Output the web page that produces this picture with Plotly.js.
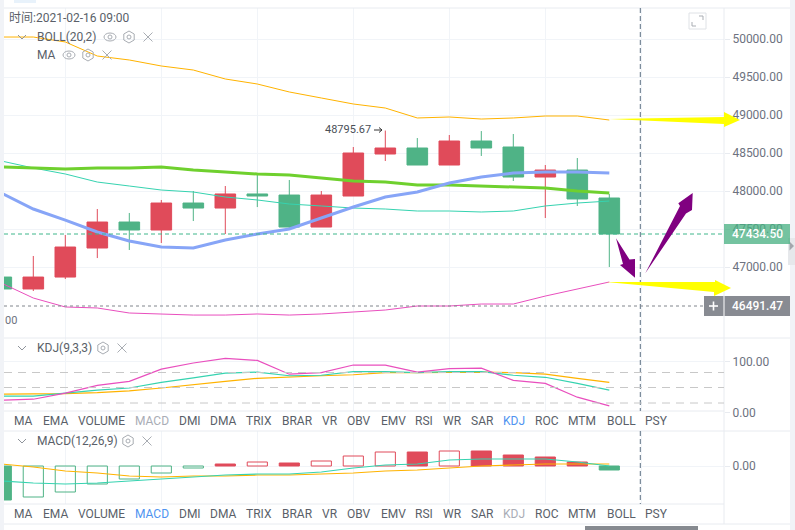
<!DOCTYPE html>
<html><head><meta charset="utf-8">
<script src="https://cdn.plot.ly/plotly-3.0.1.min.js"></script>
<style>html,body{margin:0;padding:0;background:#fff}#c{width:795px;height:530px}</style></head>
<body><div id="c"></div>
<script>
const idx = [0,1,2,3,4,5,6,7,8,9,10,11,12,13,14,15,16,17,18,19];
const open_ = [46868,46711,46868,47250,47592,47487,47842,47776,47961,47947,47526,47934,48487,48566,48342,48658,48579,48184,48276,47908];
const high  = [46880,47145,47421,47763,47711,47882,48000,48066,48211,48145,48000,48579,48795.67,48697,48737,48789,48750,48342,48434,47960];
const low   = [46700,46684,46842,47118,47224,47316,47605,47434,47789,47487,47526,47934,48395,48342,48342,48461,48132,47645,47803,47000];
const close_= [46711,46868,47263,47592,47487,47842,47776,47961,47934,47526,47947,48500,48566,48342,48658,48566,48184,48276,47895,47434.5];
const bollUp  = [50026,50026,49961,49776,49724,49645,49592,49474,49408,49303,49224,49145,49092,48961,48974,48947,48961,48987,48987,48934];
const bollMid = [48395,48303,48224,48118,48066,48013,47987,47921,47882,47829,47803,47776,47763,47737,47737,47724,47737,47803,47842,47868];
const bollLow = [46789,46592,46474,46461,46395,46382,46368,46368,46382,46368,46382,46408,46434,46487,46487,46513,46513,46618,46711,46803];
const maGreen = [48316,48303,48289,48303,48303,48316,48276,48250,48224,48211,48171,48132,48118,48079,48079,48066,48053,48039,48000,47974];
const maBlue  = [47974,47763,47618,47461,47342,47263,47250,47355,47434,47500,47645,47789,47921,47987,48105,48184,48237,48250,48250,48237];
const kdjJ = [25,27,39,54,62,86,98,107,103,76,79,94,94,80,87,88,64,58,31,14];
const kdjK = [33,33,39,45,49,60,69,78,80,73,74,81,81,79,81,81,74,70,58,45];
const kdjD = [37,37,38,40,43.5,49,56,62,68,71,73,75,79,79,80,80,79,76,68,60];
const macdHist = [-340,-310,-260,-180,-130,-70,-20,20,40,30,50,100,140,140,150,150,110,90,40,-40];
const macdHollow = [0,1,1,1,1,1,1,0,1,0,1,1,1,0,1,0,0,0,0,0];
const macdDif = [-150,-170,-180,-170,-150,-130,-110,-90,-80,-80,-60,-20,10,20,60,70,70,70,40,0];
const macdDea = [20,-10,-50,-70,-100,-110,-100,-100,-90,-90,-80,-70,-50,-40,-20,0,10,20,20,20];
const priceTicks = [47000,47500,48000,48500,49000,49500,50000];
const tabs = ["MA","EMA","VOLUME","MACD","DMI","DMA","TRIX","BRAR","VR","OBV","EMV","RSI","WR","SAR","KDJ","ROC","MTM","BOLL","PSY"];
const tabX = [23,55,101,152,190,223,259,297,330,359,393,424,452,482,514,547,582,621,656];

const UP='#e04b5a', DOWN='#4fb386', YEL='#ffb300', TEAL='#36d3b0', PINK='#e94fbe';
const GRID='#f1f4f8', EDGE='#e8ebf0', TXT='#5a5f69', TICK='#6d7280';
const FONT='Roboto, "Noto Sans CJK SC", sans-serif';
const W=795,H=530;
const px=x=>x/W, py=y=>1-y/H;
const pane=(t,b)=>[py(b),py(t)];
const poly=pts=>'M'+pts.map(p=>px(p[0])+','+py(p[1])).join('L')+'Z';
const open=pts=>'M'+pts.map(p=>px(p[0])+','+py(p[1])).join('L');
const P={xref:'paper',yref:'paper'};
const rect=(x0,y0,x1,y1,color,layer)=>({...P,type:'rect',x0:px(x0),x1:px(x1),y0:py(y0),y1:py(y1),fillcolor:color,line:{width:0},layer:layer||'above'});
const hl=(y,x0,x1,color,w,dash)=>({...P,type:'line',x0:px(x0),x1:px(x1),y0:py(y),y1:py(y),line:{color:color,width:w||1,dash:dash||'solid'},layer:'above'});
const vl=(x,y0,y1,color,w,dash)=>({...P,type:'line',x0:px(x),x1:px(x),y0:py(y0),y1:py(y1),line:{color:color,width:w||1,dash:dash||'solid'},layer:'above'});
const stroke=(d,c,w)=>({...P,type:'path',path:d,line:{color:c,width:w||1},layer:'above'});
const fill=(pts,c)=>({...P,type:'path',path:poly(pts),fillcolor:c,line:{width:0},layer:'above'});
const ICON='#a9adb3';
const chevron=(x,y)=>stroke(open([[x-4,y-2],[x,y+2],[x+4,y-2]]),'#8f949b',1);
const cross=(x,y)=>[stroke(open([[x-4.5,y-4.5],[x+4.5,y+4.5]]),ICON,1),stroke(open([[x+4.5,y-4.5],[x-4.5,y+4.5]]),ICON,1)];
const hex=(x,y)=>[stroke(poly([[x,y-6],[x+5.2,y-3],[x+5.2,y+3],[x,y+6],[x-5.2,y+3],[x-5.2,y-3]]),ICON,1),
  {...P,type:'circle',x0:px(x-2),x1:px(x+2),y0:py(y+2),y1:py(y-2),line:{color:ICON,width:1},layer:'above'}];
const eye=(x,y)=>[{...P,type:'circle',x0:px(x-6),x1:px(x+6),y0:py(y+4),y1:py(y-4),line:{color:ICON,width:1},layer:'above'},
  {...P,type:'circle',x0:px(x-2),x1:px(x+2),y0:py(y+2),y1:py(y-2),line:{color:ICON,width:1},layer:'above'}];

const line=(y,c,w,ax)=>({type:'scatter',mode:'lines',x:idx,y:y,yaxis:ax,xaxis:'x',line:{color:c,width:w,shape:'linear'},hoverinfo:'skip',showlegend:false});
const traces=[
 {type:'candlestick',x:idx,open:open_,high:high,low:low,close:close_,xaxis:'x',yaxis:'y',
  increasing:{line:{color:UP,width:1},fillcolor:UP},decreasing:{line:{color:DOWN,width:1},fillcolor:DOWN},whiskerwidth:0,showlegend:false,hoverinfo:'skip'},
 line(bollUp,YEL,1,'y'),line(bollMid,TEAL,1,'y'),line(bollLow,PINK,1,'y'),line(maGreen,'#6fd02e',3,'y'),line(maBlue,'#87a5f7',3,'y'),
 line(kdjD,YEL,1.2,'y2'),line(kdjK,TEAL,1.2,'y2'),line(kdjJ,PINK,1.2,'y2'),
 {type:'bar',x:idx,y:macdHist,width:0.63,xaxis:'x',yaxis:'y3',showlegend:false,hoverinfo:'skip',
  marker:{color:macdHist.map((v,i)=>macdHollow[i]?'rgba(0,0,0,0)':(v>=0?UP:DOWN)),line:{color:macdHist.map(v=>v>=0?UP:DOWN),width:1}}},
 line(macdDea,YEL,1.2,'y3'),line(macdDif,TEAL,1.2,'y3')
];

const yax=(dom,range,vals,text)=>({domain:dom,range:range,side:'right',anchor:'x',tickmode:'array',tickvals:vals,ticktext:text,
  ticks:'outside',ticklen:5,tickcolor:EDGE,gridcolor:GRID,gridwidth:1,zeroline:false,showline:false,
  tickfont:{family:FONT,size:12,color:TICK},fixedrange:true});

const shapes=[
 rect(0,0,4,530,'#f1f3f7'),rect(790,0,795,530,'#f1f3f7'),
 rect(14,0,36,3,'#e8f2fb'),
 rect(4,411,724,431,'#ffffff'),rect(4,504,724,524,'#ffffff'),
 hl(8,4,790,EDGE),hl(338,4,790,EDGE),hl(411,4,724,EDGE),hl(431,4,790,EDGE),hl(504,4,724,EDGE),hl(524,4,790,EDGE),
 vl(724,8,524,EDGE),
 vl(640.3,8,411,'#5d7184',1,'5px,3px'),vl(640.3,431,504,'#5d7184',1,'5px,3px'),
 hl(234,4,724,'#3fb68b',1,'4px,3px'),hl(306,4,724,'#80858c',1,'3px,3px'),
 hl(372.5,4,724,'#c8c8c8',1,'8px,6px'),hl(387.5,4,724,'#c8c8c8',1,'8px,6px'),hl(403,4,724,'#c8c8c8',1,'8px,6px'),
 rect(788,238,795,265,'#e6e8eb'),fill([[789.5,241.5],[794,246],[789.5,250.5]],'#a3a7ad'),
 rect(724,224,790,244,'rgba(72,176,130,0.76)'),
 rect(704,296,790,316,'#888b92'),vl(724,296,316,'#ffffff'),
 hl(306,709,718,'#ffffff',1.6),vl(713.5,301.5,310.5,'#ffffff',1.6),
 rect(585,526,698,530,'#868a90'),
 stroke(poly([[689,13],[706,13],[706,29],[689,29]]),'#dfe2e6',1),
 stroke(open([[699,16],[703,16],[703,20]]),'#a9adb3',1),stroke(open([[692,22],[692,26],[696,26]]),'#a9adb3',1),
 chevron(22,37),chevron(22,348),chevron(22,441),
 ...eye(110,37),...hex(129,37),...cross(148,37),
 ...eye(69,55),...hex(88,55),...cross(107,55),
 ...hex(103,348),...cross(122,348),...hex(128,441),...cross(147,441),
 stroke(open([[374,130],[382,130]]),'#333',1),stroke(open([[379,127.5],[382,130],[379,132.5]]),'#333',1),
 fill([[609,119],[724,117],[724,112],[740,120],[724,127],[724,124]],'#ffff00'),
 fill([[606,282],[715,282],[715,280],[731,288],[714,296],[714,292]],'#ffff00'),
 fill([[645.3,273.3],[680,206],[678.3,203.3],[692.7,193],[692,210],[686,213.5]],'#800080'),
 fill([[616,238.3],[629.5,259.5],[635,259],[635,277.7],[620,265],[623,264]],'#800080')
];

const note=(x,y,t,o)=>Object.assign({...P,x:px(x),y:py(y),text:t,showarrow:false,xanchor:'left',yanchor:'middle',borderpad:0,
  font:{family:FONT,size:12,color:TXT}},o||{});
const annotations=[
 note(8,18,'时间:2021-02-16 09:00'),
 note(36,37,'BOLL(20,2)'),note(36,55,'MA'),note(36,348,'KDJ(9,3,3)'),note(36,441,'MACD(12,26,9)'),
 note(324,130,'48795.67',{font:{family:FONT,size:11,color:'#4a4f57'}}),
 note(4,320,'00',{font:{family:FONT,size:11,color:TICK}}),
 note(757,234,'47434.50',{xanchor:'center',font:{family:FONT,size:12,color:'#ffffff',weight:500}}),
 note(757,306,'46491.47',{xanchor:'center',font:{family:FONT,size:12,color:'#ffffff',weight:500}})
];
tabs.forEach((t,i)=>{
  const c1=t==='KDJ'?'#4f94f0':(t==='MACD'?'#a9adb6':TXT);
  const c2=t==='MACD'?'#4f94f0':(t==='KDJ'?'#a9adb6':TXT);
  annotations.push(note(tabX[i],421,t,{xanchor:'center',font:{family:FONT,size:12,color:c1}}));
  annotations.push(note(tabX[i],514,t,{xanchor:'center',font:{family:FONT,size:12,color:c2}}));
});

const layout={width:W,height:H,autosize:false,margin:{l:0,r:0,t:0,b:0},paper_bgcolor:'#ffffff',plot_bgcolor:'#ffffff',
 showlegend:false,hovermode:false,boxgap:0.08,barmode:'overlay',
 xaxis:{domain:[px(4),px(724)],range:[0.084,22.584],anchor:'y3',tickmode:'array',tickvals:[2,5,8,11,14,17,20],showticklabels:false,ticks:'',
   gridcolor:GRID,gridwidth:1,zeroline:false,showline:false,rangeslider:{visible:false},fixedrange:true},
 yaxis:yax(pane(8,338),[46066,50408],priceTicks,priceTicks.map(v=>v.toFixed(2))),
 yaxis2:yax(pane(338,431),[-35.3,147],[0,100],['0.00','100.00']),
 yaxis3:yax(pane(431,504),[-380,350],[0],['0.00']),
 shapes:shapes,annotations:annotations};
Plotly.newPlot('c',traces,layout,{displayModeBar:false,staticPlot:true});
</script></body></html>
